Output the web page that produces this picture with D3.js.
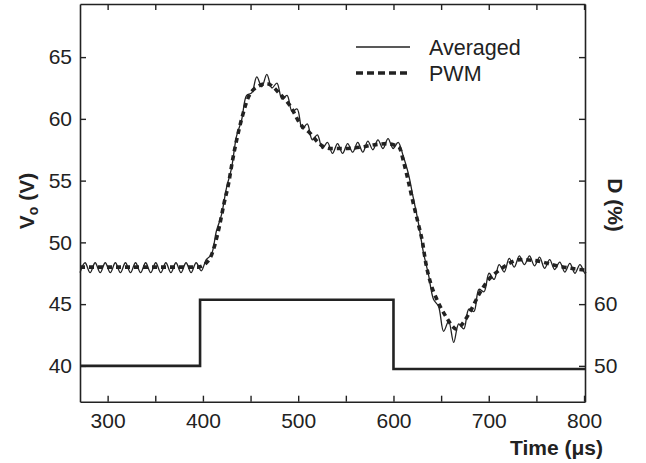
<!DOCTYPE html>
<html>
<head>
<meta charset="utf-8">
<script src="https://cdn.jsdelivr.net/npm/d3@7"></script>
<style>
  body { margin: 0; background: #fff; }
  svg { display: block; }
  text { font-family: "Liberation Sans", Arial, Helvetica, sans-serif; fill: #222; }
</style>
</head>
<body>
<div id="chart"></div>
<script>
// values
var avgTime = [271.0, 276.3, 281.6, 286.9, 292.2, 297.5, 302.8, 308.1, 313.4, 318.7,
  324.0, 329.3, 334.6, 339.9, 345.2, 350.5, 355.8, 361.1, 366.4, 371.7,
  377.0, 382.3, 387.6, 392.9, 398.2, 403.5, 408.8, 414.1, 419.4, 424.7,
  430.0, 435.3, 440.6, 445.9, 451.2, 456.5, 461.8, 467.1, 472.4, 477.7,
  483.0, 488.3, 493.6, 498.9, 504.2, 509.5, 514.8, 520.1, 525.4, 530.7,
  536.0, 541.3, 546.6, 551.9, 557.2, 562.5, 567.8, 573.1, 578.4, 583.7,
  589.0, 594.3, 599.6, 604.9, 610.2, 615.5, 620.8, 626.1, 631.4, 636.7,
  642.0, 647.3, 652.6, 657.9, 663.2, 668.5, 673.8, 679.1, 684.4, 689.7,
  695.0, 700.3, 705.6, 710.9, 716.2, 721.5, 726.8, 732.1, 737.4, 742.7,
  748.0, 753.3, 758.6, 763.9, 769.2, 774.5, 779.8, 785.1, 790.4, 795.7,
  801.0, 802.0];
var avgVo = [47.55, 48.35, 47.55, 48.35, 47.55, 48.35, 47.55, 48.35, 47.55, 48.35,
  47.55, 48.35, 47.55, 48.35, 47.55, 48.35, 47.55, 48.35, 47.55, 48.35,
  47.55, 48.35, 47.55, 48.35, 47.7, 48.6, 49.0, 50.9, 52.2, 54.4,
  56.0, 58.6, 59.9, 61.9, 62.1, 63.4, 62.6, 63.6, 62.5, 62.9,
  61.6, 61.9, 60.6, 60.8, 59.2, 59.6, 58.3, 58.7, 57.6, 58.1,
  57.2, 58.0, 57.2, 58.0, 57.3, 58.1, 57.3, 58.2, 57.5, 58.3,
  57.6, 58.4, 57.6, 58.1, 57.0, 55.6, 53.6, 51.6, 49.2, 47.4,
  45.4, 44.8, 42.8, 43.6, 41.9, 43.4, 43.0, 44.6, 44.4, 46.2,
  46.0, 47.5, 47.0, 48.2, 47.6, 48.7, 48.0, 48.9, 48.2, 48.9,
  48.1, 48.8, 47.9, 48.6, 47.8, 48.4, 47.6, 48.3, 47.5, 48.2,
  47.5, 47.6];

var pwmTime = [271, 300, 350, 395, 403, 408, 417, 422, 427, 431, 436, 441, 448, 457, 467,
  481, 492, 502, 513, 522, 534, 550, 565, 580, 594, 600, 606, 611, 616, 621,
  627, 630, 634, 639, 646, 655, 662, 665, 670, 679, 692, 700, 712, 733, 751,
  769, 786, 802];
var pwmVo = [48.0, 48.0, 48.0, 48.0, 48.3, 48.8, 51.2, 53.1, 54.8, 56.6, 58.5, 60.1, 61.8, 62.6, 62.85,
  62.0, 61.0, 59.6, 58.8, 58.0, 57.6, 57.6, 57.7, 57.9, 58.0, 57.9, 57.7, 56.4, 54.8, 53.1,
  51.2, 50.2, 48.3, 46.7, 45.3, 44.0, 43.2, 43.0, 43.2, 44.2, 46.1, 47.0, 47.8, 48.6, 48.5,
  48.15, 47.9, 47.75];

// duty cycle steps (held until next time)
var dutyTime = [271, 397, 600, 802];
var dutyD = [50, 60.7, 49.5, 49.5];

var voTicks = [40, 45, 50, 55, 60, 65];
var dTicks = [50, 60, 70, 80, 90, 100];
var dLabels = [50, 60];
var timeTicks = [300, 350, 400, 450, 500, 550, 600, 650, 700, 750, 800];
var timeLabels = [300, 400, 500, 600, 700, 800];

var legendNames = ["Averaged", "PWM"];

var width = 646;
var height = 463;
var margin = {left: 80, top: 4, right: 61, bottom: 61.3};
var plotW = width - margin.left - margin.right;
var plotH = height - margin.top - margin.bottom;

var x = d3.scaleLinear().domain([271, 801]).range([0, plotW]);
var y = d3.scaleLinear().domain([37.1, 69.3]).range([plotH, 0]);
var yD = d3.scaleLinear().domain([44.2, 108.6]).range([plotH, 0]);

var svg = d3.select("#chart").append("svg")
    .attr("width", width)
    .attr("height", height);

var g = svg.append("g").attr("transform", "translate(" + margin.left + "," + margin.top + ")");

//axes, ticks point inward
function styleAxis(sel) {
  sel.selectAll("path.domain").attr("stroke", "#222").attr("stroke-width", 1.6);
  sel.selectAll(".tick line").attr("stroke", "#222").attr("stroke-width", 1.4);
  sel.selectAll("text").attr("font-size", 21).attr("fill", "#222")
    .attr("font-family", "'Liberation Sans', Arial, Helvetica, sans-serif");
}

g.append("g")
  .attr("transform", "translate(0," + plotH + ")")
  .call(d3.axisBottom(x).tickValues(timeTicks).tickSize(-6).tickSizeOuter(0).tickPadding(11)
    .tickFormat(function(d) { return timeLabels.indexOf(d) >= 0 ? d : ""; }))
  .call(styleAxis);

g.append("g")
  .call(d3.axisTop(x).tickValues(timeTicks).tickSize(-6).tickSizeOuter(0).tickFormat(""))
  .call(styleAxis);

g.append("g")
  .call(d3.axisLeft(y).tickValues(voTicks).tickSize(-6).tickSizeOuter(0).tickPadding(8))
  .call(styleAxis);

g.append("g")
  .attr("transform", "translate(" + plotW + ",0)")
  .call(d3.axisRight(yD).tickValues(dTicks).tickSize(-6).tickSizeOuter(0).tickPadding(9)
    .tickFormat(function(d) { return dLabels.indexOf(d) >= 0 ? d : ""; }))
  .call(styleAxis);

// lines
var avgData = avgTime.map(function(t, i) { return [t, avgVo[i]]; });
var pwmData = pwmTime.map(function(t, i) { return [t, pwmVo[i]]; });
var dutyData = dutyTime.map(function(t, i) { return [t, dutyD[i]]; });

var voLine = d3.line()
    .x(function(d) { return x(d[0]); })
    .y(function(d) { return y(d[1]); });

g.append("path")
  .datum(dutyData)
  .attr("fill", "none")
  .attr("stroke", "#222")
  .attr("stroke-width", 2.6)
  .attr("d", d3.line().curve(d3.curveStepAfter)
    .x(function(d) { return x(d[0]); })
    .y(function(d) { return yD(d[1]); }));

g.append("path")
  .datum(pwmData)
  .attr("fill", "none")
  .attr("stroke", "#222")
  .attr("stroke-width", 3.6)
  .attr("stroke-dasharray", "5,4")
  .attr("d", voLine.curve(d3.curveMonotoneX));

g.append("path")
  .datum(avgData)
  .attr("fill", "none")
  .attr("stroke", "#222")
  .attr("stroke-width", 1.3)
  .attr("d", voLine.curve(d3.curveCatmullRom.alpha(0.5)));

// legend
var legend = svg.append("g");
legendNames.forEach(function(name, i) {
  var ly = 47 + i * 26;
  legend.append("line")
    .attr("x1", 356).attr("x2", 410)
    .attr("y1", ly).attr("y2", ly)
    .attr("stroke", "#222")
    .attr("stroke-width", i == 0 ? 1.3 : 3.6)
    .attr("stroke-dasharray", i == 0 ? null : "7,4");
  legend.append("text")
    .attr("x", 429).attr("y", ly + 7.8)
    .attr("font-size", 21.5)
    .text(name);
});

// axis titles
var voTitle = svg.append("text")
  .attr("transform", "translate(34,201) rotate(-90)")
  .attr("text-anchor", "middle")
  .attr("font-size", 21)
  .attr("font-weight", "bold");
voTitle.append("tspan").text("V");
voTitle.append("tspan").attr("font-size", 14).attr("dy", 4).text("o");
voTitle.append("tspan").attr("dy", -4).text(" (V)");

svg.append("text")
  .attr("transform", "translate(608,205) rotate(90)")
  .attr("text-anchor", "middle")
  .attr("font-size", 21)
  .attr("font-weight", "bold")
  .text("D (%)");

svg.append("text")
  .attr("x", 603).attr("y", 455)
  .attr("text-anchor", "end")
  .attr("font-size", 21)
  .attr("font-weight", "bold")
  .text("Time (\u03bcs)");
</script>
</body>
</html>
